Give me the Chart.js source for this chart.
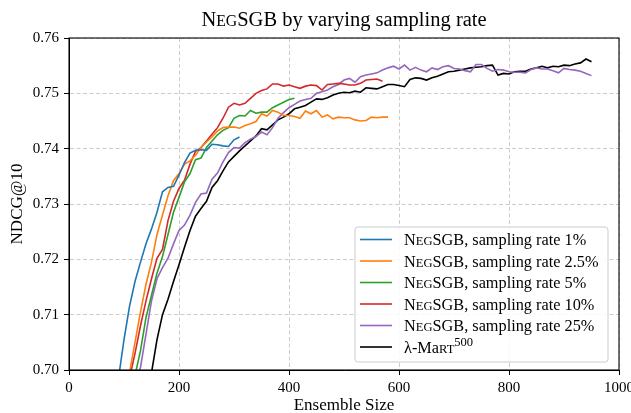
<!DOCTYPE html>
<html>
<head>
<meta charset="utf-8">
<script src="https://cdn.jsdelivr.net/npm/chart.js@4"></script>
<style>
html, body { margin: 0; padding: 0; background: #fff; }
</style>
</head>
<body>
<canvas id="chart" width="631" height="413"></canvas>
<script>
// ensemble sizes are sampled every 10 trees, each series starts at its own size
const STEP = 10;

const rate1Start = 90;
const rate1 = [0.6985, 0.7055, 0.7115, 0.716, 0.7195, 0.7228, 0.7255, 0.7285, 0.7322, 0.7330,
  0.7332, 0.7352, 0.7375, 0.7392, 0.7397, 0.7398, 0.7397, 0.7408, 0.7407, 0.7405,
  0.7404, 0.7416, 0.7421];

const rate2_5Start = 110;
const rate2_5 = [0.6995, 0.705, 0.7105, 0.7155, 0.7195, 0.7245, 0.728, 0.7315, 0.7342, 0.7355,
  0.7372, 0.7378, 0.7388, 0.7402, 0.7412, 0.7421, 0.7432, 0.7438, 0.7439, 0.7439,
  0.7437, 0.7442, 0.7445, 0.7449, 0.7463, 0.7459, 0.7469, 0.7466, 0.7460, 0.7460,
  0.7458, 0.7455, 0.7468, 0.7463, 0.7469, 0.7457, 0.7461, 0.7454, 0.7457, 0.7456,
  0.7456, 0.7452, 0.7450, 0.7451, 0.7457, 0.7456, 0.7457, 0.7457];

const rate5Start = 120;
const rate5 = [0.699, 0.7035, 0.7095, 0.7135, 0.7175, 0.7205, 0.7245, 0.7285, 0.7312, 0.7340,
  0.7355, 0.7380, 0.7383, 0.7402, 0.7414, 0.7425, 0.7433, 0.7438, 0.7455, 0.7460,
  0.7459, 0.7469, 0.7464, 0.7466, 0.7466, 0.7474, 0.7479, 0.7484, 0.7489, 0.7491];

const rate10Start = 110;
const rate10 = [0.6985, 0.703, 0.708, 0.7125, 0.7165, 0.7202, 0.7218, 0.7270, 0.7305, 0.7328,
  0.7343, 0.7372, 0.7395, 0.7402, 0.7414, 0.7426, 0.7438, 0.7455, 0.7475, 0.7482,
  0.7479, 0.7482, 0.7491, 0.7500, 0.7505, 0.7508, 0.7517, 0.7517, 0.7513, 0.7515,
  0.7512, 0.7509, 0.7513, 0.7515, 0.7514, 0.7506, 0.7516, 0.7517, 0.7518, 0.7517,
  0.7515, 0.7515, 0.7518, 0.7524, 0.7525, 0.7526, 0.7522];

const rate25Start = 120;
const rate25 = [0.6975, 0.7005, 0.7065, 0.7125, 0.7165, 0.7185, 0.7202, 0.7228, 0.7252, 0.7262,
  0.7280, 0.7303, 0.7318, 0.7320, 0.7345, 0.7356, 0.7376, 0.7393, 0.7402, 0.7401,
  0.7411, 0.7417, 0.7422, 0.7430, 0.7425, 0.7438, 0.7455, 0.7465, 0.7474, 0.7480,
  0.7486, 0.7489, 0.7491, 0.7500, 0.7503, 0.7506, 0.7512, 0.7516, 0.7524, 0.7527,
  0.7520, 0.7530, 0.7533, 0.7535, 0.7537, 0.7542, 0.7546, 0.7549, 0.7544, 0.7551,
  0.7542, 0.7547, 0.7542, 0.7539, 0.7546, 0.7543, 0.7548, 0.7550, 0.7545, 0.7544,
  0.7541, 0.7539, 0.7552, 0.7552, 0.7545, 0.7540, 0.7543, 0.7542, 0.7539, 0.7538,
  0.7538, 0.7537, 0.7543, 0.7546, 0.7544, 0.7544, 0.7541, 0.7537, 0.7545, 0.7543,
  0.7542, 0.7540, 0.7536, 0.7532];

const lambdaStart = 150;
const lambdaMart = [0.6995, 0.7055, 0.7100, 0.7128, 0.7160, 0.7190, 0.7222, 0.7252, 0.7278, 0.7292,
  0.7305, 0.7330, 0.7342, 0.7360, 0.7376, 0.7386, 0.7396, 0.7405, 0.7414, 0.7423,
  0.7436, 0.7434, 0.7443, 0.7452, 0.7457, 0.7463, 0.7472, 0.7475, 0.7478, 0.7484,
  0.7490, 0.7489, 0.7492, 0.7497, 0.7500, 0.7502, 0.7501, 0.7504, 0.7502, 0.7510,
  0.7509, 0.7508, 0.7512, 0.7516, 0.7516, 0.7514, 0.7512, 0.7525, 0.7528, 0.7527,
  0.7524, 0.7528, 0.7531, 0.7535, 0.7539, 0.7540, 0.7542, 0.7544, 0.7546, 0.7547,
  0.7548, 0.7550, 0.7551, 0.7533, 0.7536, 0.7535, 0.7539, 0.7540, 0.7540, 0.7544,
  0.7546, 0.7549, 0.7546, 0.7549, 0.7548, 0.7551, 0.7550, 0.7553, 0.7555, 0.7562,
  0.7557];

// [..] = small caps, ^{..} = superscript
const seriesNames = ['[Neg]SGB, sampling rate 1%', '[Neg]SGB, sampling rate 2.5%',
  '[Neg]SGB, sampling rate 5%', '[Neg]SGB, sampling rate 10%',
  '[Neg]SGB, sampling rate 25%', 'λ-M[art]^{500}'];
const seriesColors = ['#1f77b4', '#ff7f0e', '#2ca02c', '#d62728', '#9467bd', '#000000'];

const xTicks = [0, 200, 400, 600, 800, 1000];
const yTicks = [0.70, 0.71, 0.72, 0.73, 0.74, 0.75, 0.76];

const titleText = '[Neg]SGB by varying sampling rate';
const xTitle = 'Ensemble Size';
const yTitle = 'NDCG@10';

const SERIF = "'Liberation Serif', 'Times New Roman', serif";

function toPoints(start, values) {
  return values.map((v, i) => ({ x: start + i * STEP, y: v }));
}

function richParts(str) {
  const parts = [];
  const re = /\[([^\]]+)\]|\^\{([^}]+)\}|([^\[\^]+)/g;
  let m;
  while ((m = re.exec(str))) {
    if (m[1]) {
      parts.push({ t: m[1][0], k: 'n' });
      parts.push({ t: m[1].slice(1).toUpperCase(), k: 'sc' });
    } else if (m[2]) {
      parts.push({ t: m[2], k: 'sup' });
    } else {
      parts.push({ t: m[3], k: 'n' });
    }
  }
  return parts;
}

function drawRich(ctx, str, x, y, size, align) {
  const parts = richParts(str);
  const fontFor = k => (k === 'n' ? size : size * 0.77) + 'px ' + SERIF;
  let total = 0;
  parts.forEach(p => {
    ctx.font = fontFor(p.k);
    p.w = ctx.measureText(p.t).width;
    total += p.w;
  });
  let cx = align === 'center' ? x - total / 2 : x;
  ctx.textAlign = 'left';
  ctx.textBaseline = 'alphabetic';
  parts.forEach(p => {
    ctx.font = fontFor(p.k);
    ctx.fillText(p.t, cx, p.k === 'sup' ? y - size * 0.42 : y);
    cx += p.w;
  });
}

const frameAndLegend = {
  id: 'frameAndLegend',
  afterDraw(chart) {
    const ctx = chart.ctx;
    const a = chart.chartArea;
    ctx.save();

    // title
    ctx.fillStyle = '#000';
    drawRich(ctx, titleText, (a.left + a.right) / 2, 26, 20.5, 'center');

    // axes box
    ctx.strokeStyle = '#000';
    ctx.lineWidth = 1.1;
    ctx.strokeRect(a.left, a.top, a.right - a.left, a.bottom - a.top);

    // legend
    const bx = a.right - 264, by = a.bottom - 143, bw = 253, bh = 135;
    ctx.beginPath();
    ctx.roundRect(bx, by, bw, bh, 3);
    ctx.fillStyle = 'rgba(255,255,255,0.85)';
    ctx.fill();
    ctx.strokeStyle = '#cccccc';
    ctx.lineWidth = 1;
    ctx.stroke();

    chart.data.datasets.forEach((ds, i) => {
      const cy = by + 12.5 + i * 21.5;
      ctx.beginPath();
      ctx.moveTo(bx + 5, cy);
      ctx.lineTo(bx + 37, cy);
      ctx.strokeStyle = ds.borderColor;
      ctx.lineWidth = 1.6;
      ctx.stroke();
      ctx.fillStyle = '#000';
      drawRich(ctx, seriesNames[i], bx + 49, cy + 5.5, 16.3, 'left');
    });
    ctx.restore();
  }
};

const allSeries = [
  [rate1Start, rate1], [rate2_5Start, rate2_5], [rate5Start, rate5],
  [rate10Start, rate10], [rate25Start, rate25], [lambdaStart, lambdaMart]
];

new Chart(document.getElementById('chart'), {
  type: 'line',
  data: {
    datasets: allSeries.map((s, i) => ({
      label: seriesNames[i].replace(/[\[\]]/g, '').replace(/\^\{|\}/g, ''),
      data: toPoints(s[0], s[1]),
      borderColor: seriesColors[i],
      backgroundColor: seriesColors[i],
      borderWidth: 1.6,
      pointRadius: 0,
      tension: 0,
      clip: 0
    }))
  },
  options: {
    responsive: false,
    animation: false,
    devicePixelRatio: 1,
    layout: { padding: { top: 38, right: 12, left: 0, bottom: 0 } },
    plugins: {
      legend: { display: false },
      title: { display: false },
      tooltip: { enabled: false }
    },
    scales: {
      x: {
        type: 'linear',
        min: 0,
        max: 1000,
        afterBuildTicks: s => { s.ticks = xTicks.map(v => ({ value: v })); },
        afterFit: s => { s.height = 43; s.paddingLeft = 0; s.paddingRight = 0; },
        ticks: {
          color: '#000',
          font: { family: SERIF, size: 15 },
          padding: 4,
          maxRotation: 0,
          callback: v => String(v)
        },
        grid: {
          color: '#cccccc',
          lineWidth: 1,
          tickColor: '#000',
          tickLength: 5,
          tickBorderDash: []
        },
        border: { display: true, color: '#000', width: 1, dash: [4, 2.5] },
        title: {
          display: true,
          text: xTitle,
          color: '#000',
          font: { family: SERIF, size: 17 },
          padding: { top: 0, bottom: -3 }
        }
      },
      y: {
        min: 0.70,
        max: 0.76,
        afterBuildTicks: s => { s.ticks = yTicks.map(v => ({ value: v })); },
        afterFit: s => { s.width = 69; s.paddingTop = 0; s.paddingBottom = 0; },
        ticks: {
          color: '#000',
          font: { family: SERIF, size: 15 },
          padding: 5,
          callback: v => Number(v).toFixed(2)
        },
        grid: {
          color: '#cccccc',
          lineWidth: 1,
          tickColor: '#000',
          tickLength: 5,
          tickBorderDash: []
        },
        border: { display: true, color: '#000', width: 1, dash: [4, 2.5] },
        title: {
          display: true,
          text: yTitle,
          color: '#000',
          font: { family: SERIF, size: 17 },
          padding: { top: 7, bottom: 0 }
        }
      }
    }
  },
  plugins: [frameAndLegend]
});
</script>
</body>
</html>
